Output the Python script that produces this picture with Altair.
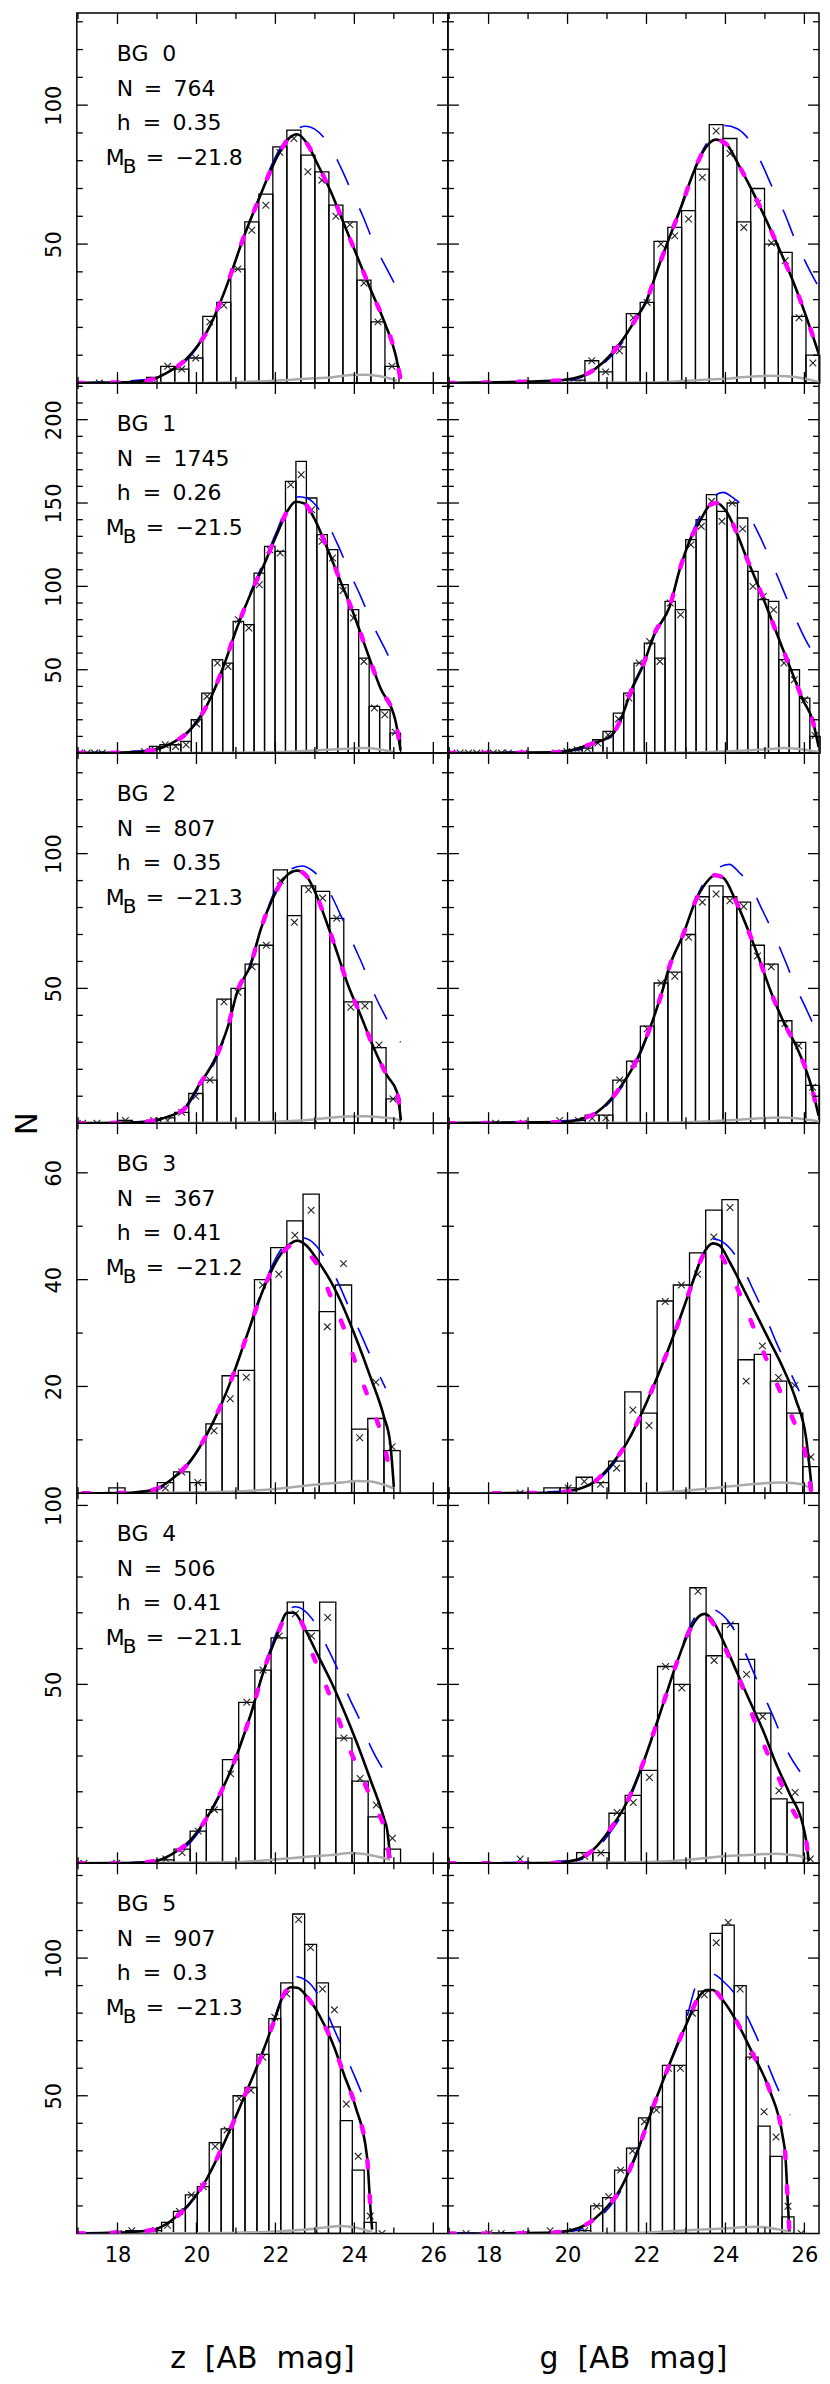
import altair as alt
import pandas as pd

FONT = "DejaVu Sans"
W, H = 372, 371
X_DOMAIN = [16.97, 26.37]
X_LABELS = [18, 20, 22, 24, 26]
X_MAJOR = [18, 20, 22, 24, 26]
X_MINOR = [17, 19, 21, 23, 25]
X_TITLES = ["z\u00a0\u00a0[AB\u00a0\u00a0mag]", "g\u00a0\u00a0[AB\u00a0\u00a0mag]"]

BG_NAME = ["BG\u00a0\u00a00", "BG\u00a0\u00a01", "BG\u00a0\u00a02", "BG\u00a0\u00a03", "BG\u00a0\u00a04", "BG\u00a0\u00a05"]
BG_N = ["764", "1745", "807", "367", "506", "907"]
BG_H = ["0.35", "0.26", "0.35", "0.41", "0.41", "0.3"]
BG_MB = ["\u221221.8", "\u221221.5", "\u221221.3", "\u221221.2", "\u221221.1", "\u221221.3"]

Y_MAX = [133.2, 222.0, 137.3, 69.3, 103.4, 134.4]
Y_LABELS = [[50, 100], [50, 100, 150, 200], [50, 100], [20, 40, 60], [50, 100], [50, 100]]
Y_MAJOR = Y_LABELS
Y_MINOR = [
    [10, 20, 30, 40, 60, 70, 80, 90, 110, 120, 130],
    [10, 20, 30, 40, 60, 70, 80, 90, 110, 120, 130, 140, 160, 170, 180, 190, 210, 220],
    [10, 20, 30, 40, 60, 70, 80, 90, 110, 120, 130],
    [10, 30, 50],
    [10, 20, 30, 40, 60, 70, 80, 90],
    [10, 20, 30, 40, 60, 70, 80, 90, 110, 120, 130],
]

# ---------------- BG 0 ----------------
Z0_START, Z0_WIDTH = 18.74, 0.355
Z0_COUNTS = [2, 6, 5, 9, 24, 29, 41, 58, 68, 85, 91, 82, 76, 64, 58, 37, 22, 6]
Z0_MARKS = [1, 6, 5, 9, 22, 28, 41, 55, 64, 83, 88, 76, 73, 60, 57, 36, 22, 6]
Z0_EXTRA_X = [17.54]
Z0_EXTRA_Y = [0]
Z0_BLACK_X = [16.97, 18.34, 18.93, 19.19, 19.9, 20.36, 20.70, 21.25, 21.59, 21.92, 22.09, 22.34, 22.55, 22.81, 23.06, 23.40, 23.73, 24.07, 24.41, 24.75, 25.04, 25.17]
Z0_BLACK_Y = [0, 0.3, 1.5, 3.2, 11, 21, 32.5, 54.5, 66.5, 77.8, 82.6, 88, 89.5, 86, 79, 69, 57.5, 45.6, 33.7, 22.3, 10.4, 1.4]
Z0_MAG_X = Z0_BLACK_X
Z0_MAG_Y = Z0_BLACK_Y
Z0_BLUE_X = [16.97, 18.93, 19.19, 19.9, 20.36, 20.70, 21.25, 21.59, 21.92, 22.34, 22.77, 23.31, 23.65, 23.93, 24.22, 24.49, 24.81, 25.14]
Z0_BLUE_Y = [0, 1.5, 3.0, 10.5, 21, 32.5, 54.5, 67, 79, 89, 92.4, 86.8, 77.8, 68.9, 59.9, 50.4, 41.4, 32.5]
Z0_GREY_X = [16.97, 19.5, 21.0, 21.97, 22.98, 23.40, 23.90, 24.24, 24.58, 24.87, 25.08]
Z0_GREY_Y = [0, 0, 0.3, 0.8, 1.7, 2.0, 2.9, 3.0, 2.6, 1.7, 0.8]

G0_START, G0_WIDTH = 20.09, 0.35
G0_COUNTS = [1, 8, 4, 13, 25, 29, 51, 56, 62, 77, 93, 88, 58, 70, 50, 47, 24, 10]
G0_MARKS = [0, 8, 4, 11.6, 23.5, 29, 50, 53, 59, 74, 90.7, 82.6, 56, 64.7, 50.4, 44, 23.5, 7.2]
G0_EXTRA_X = [18.87]
G0_EXTRA_Y = [0]
G0_BLACK_X = [16.97, 19.64, 20.06, 20.48, 20.90, 21.41, 21.75, 22.0, 22.25, 22.59, 22.88, 23.18, 23.43, 23.75, 24.02, 24.36, 24.69, 25.03, 25.37, 25.71, 26.04, 26.38]
G0_BLACK_Y = [0, 0.8, 1.4, 3.2, 7.4, 15.8, 23.5, 29.5, 39.6, 52.7, 63.4, 75.4, 83.2, 87.6, 86, 77.8, 68.9, 58.7, 48, 36.7, 24.1, 9.8]
G0_MAG_X = G0_BLACK_X
G0_MAG_Y = G0_BLACK_Y
G0_BLUE_X = [16.97, 20.06, 20.48, 20.90, 21.41, 21.75, 22.0, 22.25, 22.59, 22.88, 23.18, 23.6, 23.98, 24.3, 24.57, 24.91, 25.2, 25.5, 25.75, 26.06, 26.38]
G0_BLUE_Y = [0, 1.2, 2.8, 6.8, 15, 23.5, 30, 40, 53, 64, 76, 88, 92.7, 91.5, 88, 79.2, 70, 61, 52, 42.6, 34]
G0_GREY_X = [16.97, 22.17, 23.01, 23.85, 24.69, 25.12, 25.54, 25.96, 26.38]
G0_GREY_Y = [0, 0.2, 0.8, 1.4, 2.3, 2.6, 2.4, 1.7, 0.2]

# ---------------- BG 1 ----------------
Z1_START, Z1_WIDTH = 18.81, 0.265
Z1_COUNTS = [4, 5, 5, 7, 20, 36, 56, 54, 79, 77, 108, 124, 121, 163, 175, 153, 131, 122, 101, 86, 57, 28, 26, 12]
Z1_MARKS = [2, 5, 4, 5, 17.5, 34, 54, 52, 80, 75, 101, 122, 120, 161, 167, 146, 127, 117, 97.5, 81, 55, 27, 23, 12.5]
Z1_EXTRA_X = [17.04, 17.23, 17.42, 17.61, 18.68]
Z1_EXTRA_Y = [0, 0, 0, 0, 1]
Z1_BLACK_X = [16.97, 18.34, 18.93, 19.35, 19.86, 20.36, 20.70, 21.04, 21.38, 21.71, 22.05, 22.30, 22.51, 22.72, 22.98, 23.31, 23.65, 23.99, 24.32, 24.66, 25.04, 25.17]
Z1_BLACK_Y = [0, 0.4, 2, 5.6, 14.5, 33, 53, 76, 96, 113, 132, 145, 150.8, 149.9, 141, 123, 103, 83, 61, 39, 19.5, 1.6]
Z1_MAG_X = Z1_BLACK_X
Z1_MAG_Y = Z1_BLACK_Y
Z1_BLUE_X = [16.97, 18.93, 19.35, 19.86, 20.36, 20.70, 21.04, 21.38, 21.71, 22.05, 22.30, 22.6, 22.81, 23.27, 23.58, 23.86, 24.16, 24.43, 24.75, 25.08, 25.14]
Z1_BLUE_Y = [0, 2, 5.2, 14, 33, 53, 76, 97, 115, 134, 148, 153.8, 152.8, 140, 125, 109.5, 94, 79, 63.7, 49, 47.4]
Z1_GREY_X = [16.97, 21.0, 22.13, 22.98, 23.82, 24.24, 24.66, 24.99]
Z1_GREY_Y = [0, 0.2, 0.6, 1.6, 2.6, 3, 2.2, 0.6]

G1_START, G1_WIDTH = 19.85, 0.262
G1_COUNTS = [1, 2, 3, 8, 13, 24, 36, 54, 66, 57, 91, 86, 128, 140, 155, 145, 150, 141, 109, 92, 91, 56, 50, 33, 10]
G1_MARKS = [1, 2, 2.6, 6, 11, 20.5, 33, 54, 67, 55, 90, 83, 125, 136, 151, 139, 150, 134.5, 100, 94, 86, 54, 44, 32, 10.5]
G1_EXTRA_X = [17.07, 17.28, 17.49, 17.70, 17.91, 18.12, 18.33, 18.50, 18.90, 19.71]
G1_EXTRA_Y = [0, 0, 0, 0, 0, 0, 0, 0, 0, 0]
G1_BLACK_X = [16.97, 19.64, 20.06, 20.61, 21.11, 21.37, 21.62, 21.95, 22.21, 22.59, 22.84, 23.09, 23.35, 23.62, 23.77, 24.02, 24.27, 24.52, 24.82, 25.12, 25.41, 25.71, 25.96, 26.21, 26.36]
G1_BLACK_Y = [0, 0.4, 1.6, 5.6, 10.5, 21.5, 38, 55, 72, 88, 110, 127, 139, 149, 150, 145, 133, 118, 101, 83, 65, 47, 32, 19.5, 3.6]
G1_MAG_X = G1_BLACK_X
G1_MAG_Y = G1_BLACK_Y
G1_BLUE_X = [16.97, 20.06, 20.61, 21.11, 21.37, 21.62, 21.95, 22.21, 22.59, 22.84, 23.09, 23.35, 23.62, 23.94, 24.2, 24.48, 24.82, 25.12, 25.39, 25.66, 25.96, 26.3, 26.36]
G1_BLUE_Y = [0, 1.4, 5, 10, 20.5, 37, 54, 71, 88, 110, 128, 142, 152, 156.4, 153, 147, 132.6, 117, 102, 86.8, 71.2, 56, 53]
G1_GREY_X = [16.97, 22.59, 24.27, 25.12, 25.45, 25.79, 26.13, 26.36]
G1_GREY_Y = [0, 0.2, 1.2, 2.4, 3, 2.6, 1.6, 0.6]

# ---------------- BG 2 ----------------
Z2_START, Z2_WIDTH = 18.02, 0.357
Z2_COUNTS = [1, 0, 1, 2, 4, 11, 16, 46, 50, 59, 66, 94, 77, 88, 86, 76, 45, 45, 28, 9]
Z2_MARKS = [1, None, 1, 1, 4, 10, 16, 45, 48.6, 58, 66, 90, 74.5, 86.6, 83.5, 76, 43, 43.5, 29, 9]
Z2_EXTRA_X = [17.12, 17.48]
Z2_EXTRA_Y = [0, 0]
Z2_BLACK_X = [16.97, 18.34, 18.93, 19.35, 19.69, 20.03, 20.49, 20.79, 21.04, 21.38, 21.63, 21.92, 22.26, 22.55, 22.77, 22.98, 23.31, 23.57, 23.82, 24.16, 24.49, 24.83, 25.08, 25.18]
Z2_BLACK_Y = [0, 0.2, 1, 2.8, 5.3, 13.3, 24.4, 35.5, 49, 59, 72, 83, 91.5, 93.7, 92, 86.6, 74, 63, 52, 40, 28, 17.6, 11.5, 1]
Z2_MAG_X = Z2_BLACK_X
Z2_MAG_Y = Z2_BLACK_Y
Z2_BLUE_X = [16.97, 18.93, 19.35, 19.69, 20.03, 20.49, 20.79, 21.04, 21.38, 21.63, 21.92, 22.26, 22.68, 22.89, 23.36, 23.65, 23.94, 24.22, 24.49, 24.79, 25.17]
Z2_BLUE_Y = [0, 0.8, 2.4, 4.8, 12.5, 23.5, 35, 49, 60, 72, 84, 93, 95.4, 94.2, 86, 77.3, 67.5, 58.3, 48.4, 39.5, 30]
Z2_GREY_X = [16.97, 21.0, 22.13, 22.98, 23.82, 24.24, 24.66, 25.08, 25.17]
Z2_GREY_Y = [0, 0.2, 0.6, 1.4, 2.5, 2.6, 2.2, 1.4, 0.9]

G2_START, G2_WIDTH = 20.10, 0.349
G2_COUNTS = [1, 3, 3, 16, 23, 36, 52, 56, 70, 84, 88, 84, 82, 66, 59, 38, 30, 14]
G2_MARKS = [1, 1.8, 2, 16, 22, 35, 52, 54.5, 69, 82, 85, 82.5, 80.4, 62, 58, 37, 28.7, 13.3]
G2_EXTRA_X = [18.18, 18.88, 19.80]
G2_EXTRA_Y = [0, 0, 1]
G2_BLACK_X = [16.97, 19.9, 20.3, 20.74, 21.28, 21.75, 22.08, 22.36, 22.59, 22.93, 23.22, 23.5, 23.73, 23.95, 24.23, 24.57, 24.86, 25.16, 25.5, 25.79, 26.17, 26.36]
G2_BLACK_Y = [0, 0.4, 1.4, 4, 12.2, 23.4, 35, 47, 58.5, 70, 81.7, 89, 92, 91, 83.5, 71.8, 60.7, 48.4, 36.7, 28.7, 14, 2.8]
G2_MAG_X = G2_BLACK_X
G2_MAG_Y = G2_BLACK_Y
G2_BLUE_X = [16.97, 20.3, 20.74, 21.28, 21.75, 22.08, 22.36, 22.59, 22.93, 23.22, 23.5, 23.85, 24.1, 24.35, 24.61, 24.93, 25.23, 25.5, 25.77, 26.07, 26.37]
G2_BLUE_Y = [0, 1.2, 3.5, 11.5, 22.5, 34.5, 47, 58.5, 70, 82, 90.5, 95, 96, 93, 88.7, 79.2, 70, 60.7, 51, 41.6, 32]
G2_GREY_X = [16.97, 22.5, 23.85, 24.69, 25.37, 25.79, 26.38]
G2_GREY_Y = [0, 0.2, 0.9, 1.6, 2.1, 1.8, 0.6]

# ---------------- BG 3 ----------------
Z3_START, Z3_WIDTH = 17.78, 0.41
Z3_COUNTS = [1, 0, 0, 2, 4, 2, 13, 22, 23, 40, 46, 51, 56, 34, 39, 12, 14, 8]
Z3_MARKS = [None, None, None, 1, 4, 2, 11.7, 17.7, 21.7, 39, 41, 48.3, 53, 31.2, 43, 10.4, 20.8, 8.7]
Z3_EXTRA_X = []
Z3_EXTRA_Y = []
Z3_BLACK_X = [17.12, 18.34, 18.93, 19.35, 19.86, 20.36, 20.87, 21.29, 21.71, 22.13, 22.39, 22.55, 22.81, 23.06, 23.40, 23.73, 24.07, 24.41, 24.75, 24.91, 25.0]
Z3_BLACK_Y = [0, 0.1, 0.7, 2.5, 6.2, 12.4, 21, 29.8, 38.5, 44.7, 46.8, 47.3, 46.2, 43.7, 39.7, 34.7, 28.5, 21.7, 14.3, 9.3, 1.2]
Z3_MAG_X = [17.12, 18.34, 18.93, 19.35, 19.86, 20.36, 20.87, 21.29, 21.71, 22.13, 22.47, 22.72, 23.06, 23.40, 23.73, 24.07, 24.41, 24.75, 24.95]
Z3_MAG_Y = [0, 0.1, 0.7, 2.5, 6.2, 12.4, 21, 29.8, 38.5, 44.5, 46.6, 45.5, 42.8, 36.9, 31, 23.6, 16.7, 9.3, 1.9]
Z3_BLUE_X = [17.12, 18.93, 19.35, 19.86, 20.36, 20.87, 21.29, 21.71, 22.13, 22.39, 22.64, 22.89, 23.31, 23.63, 23.92, 24.2, 24.48, 24.79]
Z3_BLUE_Y = [0, 0.5, 2.2, 6, 12.2, 21, 30, 39, 45.5, 47.5, 47.9, 47.3, 43.4, 38.8, 33.8, 29.2, 24.5, 19.7]
Z3_GREY_X = [17.12, 20.87, 22.13, 22.98, 23.65, 24.07, 24.41, 24.75, 25.0]
Z3_GREY_Y = [0, 0.3, 0.9, 1.6, 2, 2.3, 2.2, 1.6, 0.9]

G3_START, G3_WIDTH = 19.40, 0.41
G3_COUNTS = [1, 1, 3, 2, 6, 19, 15, 36, 39, 45, 53, 55, 25, 26, 21, 15, 5]
G3_MARKS = [None, 1, 2.2, 1.7, 4.7, 15.6, 12.7, 35.9, 39, 41, 48, 53.5, 21, 27.6, 21.7, 20.2, 6.8]
G3_EXTRA_X = [18.80]
G3_EXTRA_Y = [0]
G3_BLACK_X = [18.12, 19.64, 20.23, 20.65, 21.07, 21.49, 21.91, 22.34, 22.76, 23.18, 23.43, 23.68, 23.85, 24.10, 24.44, 24.78, 25.12, 25.45, 25.79, 26.04, 26.19]
G3_BLACK_Y = [0, 0.1, 0.7, 2, 5, 9.3, 15.5, 23, 31, 39.7, 44.7, 46.8, 46.4, 43.4, 38.5, 33.5, 28.5, 23.6, 17.4, 10.5, 0.6]
G3_MAG_X = [18.12, 19.64, 20.23, 20.65, 21.07, 21.49, 21.91, 22.34, 22.76, 23.18, 23.43, 23.6, 23.85, 24.10, 24.44, 24.78, 25.12, 25.45, 25.79, 26.04, 26.17]
G3_MAG_Y = [0, 0.1, 0.7, 2, 5, 9.3, 15.5, 23, 31, 39.7, 44.5, 46.2, 45, 41.6, 36, 29.8, 23.6, 18, 12.4, 6.8, 0.3]
G3_BLUE_X = [18.12, 20.23, 20.65, 21.07, 21.49, 21.91, 22.34, 22.76, 23.18, 23.43, 23.68, 23.98, 24.42, 24.71, 25.01, 25.28, 25.58, 25.87]
G3_BLUE_Y = [0, 0.6, 1.8, 4.6, 9, 15.5, 23, 31, 40, 45, 47.6, 46.8, 42.5, 38, 33.2, 28.4, 23.6, 19.1]
G3_GREY_X = [18.12, 21.75, 23.01, 23.85, 24.69, 25.37, 25.71, 26.04, 26.21]
G3_GREY_Y = [0, 0, 0.5, 1.1, 1.7, 2, 1.9, 1.4, 0.7]

# ---------------- BG 4 ----------------
Z4_START, Z4_WIDTH = 19.02, 0.41
Z4_COUNTS = [1, 4, 9, 15, 29, 45, 54, 63, 73, 65, 73, 35, 23, 13, 4]
Z4_MARKS = [1.2, 3, 9, 15, 25, 45, 54, 63.5, 69.7, 63.5, 68.7, 35, 23.7, 16.3, 7]
Z4_EXTRA_X = [17.15, 17.98]
Z4_EXTRA_Y = [0, 0]
Z4_BLACK_X = [16.97, 18.34, 18.93, 19.35, 19.86, 20.36, 20.87, 21.38, 21.71, 22.05, 22.30, 22.47, 22.72, 23.06, 23.40, 23.73, 24.07, 24.41, 24.75, 24.83, 24.91]
Z4_BLACK_Y = [0, 0.1, 0.6, 2.4, 6.6, 14.5, 26, 41.8, 54, 64, 70, 70, 66, 58.5, 51, 42.8, 33.5, 23.3, 12.6, 9.4, 1.5]
Z4_MAG_X = [16.97, 18.34, 18.93, 19.35, 19.86, 20.36, 20.87, 21.38, 21.71, 22.05, 22.30, 22.47, 22.72, 22.89, 23.23, 23.52, 23.82, 24.16, 24.49, 24.81, 24.88]
Z4_MAG_Y = [0, 0.1, 0.6, 2.4, 6.6, 14.5, 26, 41.8, 54, 64, 69.3, 69.5, 66, 60, 51, 42.8, 33.5, 25, 16.3, 7.7, 1.5]
Z4_BLUE_X = [16.97, 18.93, 19.35, 19.86, 20.36, 20.87, 21.38, 21.71, 22.05, 22.30, 22.51, 22.93, 23.27, 23.57, 23.84, 24.14, 24.41, 24.75]
Z4_BLUE_Y = [0, 0.5, 2, 6, 14, 26, 42, 54.5, 65, 70.5, 71.7, 68.3, 61.3, 54.4, 47, 40, 32.7, 25.9]
Z4_GREY_X = [16.97, 20.87, 22.13, 22.98, 23.40, 23.90, 24.24, 24.66, 24.91]
Z4_GREY_Y = [0, 0.3, 1.2, 2, 2.3, 2.9, 2.6, 1.7, 1]

G4_START, G4_WIDTH = 20.23, 0.41
G4_COUNTS = [3, 3, 14, 19, 26, 55, 50, 77, 58, 67, 57, 42, 18, 17]
G4_MARKS = [2, 2.9, 14.2, 17, 24, 55, 49, 76, 56.7, 66.7, 52.8, 41, 20.3, 19.8]
G4_EXTRA_X = [18.80, 20.02, 26.15]
G4_EXTRA_Y = [1.2, 0, 1.2]
G4_BLACK_X = [16.97, 18.21, 19.64, 20.23, 20.65, 21.07, 21.49, 21.91, 22.34, 22.76, 23.09, 23.35, 23.47, 23.68, 23.94, 24.27, 24.61, 24.95, 25.28, 25.62, 25.96, 26.04, 26.11]
G4_BLACK_Y = [0, 0, 0.1, 1, 3.8, 9.4, 16.8, 27.9, 41.8, 55.8, 65, 69.2, 69.7, 67.8, 62.2, 53.9, 45.5, 37.2, 27.9, 19.6, 10.8, 6.6, 0.6]
G4_MAG_X = [16.97, 19.64, 20.23, 20.65, 21.07, 21.49, 21.91, 22.34, 22.76, 23.09, 23.35, 23.5, 23.67, 24.06, 24.4, 24.7, 25.03, 25.37, 25.7, 26.04, 26.1]
G4_MAG_Y = [0, 0.1, 1, 3.8, 9.4, 16.8, 27.9, 41.8, 55.8, 65, 69, 69.3, 67.3, 58.5, 50.2, 41, 31.6, 23.3, 15, 6.6, 1]
G4_BLUE_X = [16.97, 20.23, 20.65, 21.07, 21.49, 21.91, 22.34, 22.76, 23.09, 23.5, 23.77, 24.1, 24.42, 24.69, 24.99, 25.27, 25.54, 25.89]
G4_BLUE_Y = [0, 0.8, 3.2, 8.5, 16, 27.5, 41.8, 56, 66, 71.5, 70.6, 67.3, 60.9, 53.9, 46.5, 39.5, 32, 25.6]
G4_GREY_X = [18.21, 21.75, 23.09, 23.94, 24.69, 25.28, 25.62, 25.96, 26.11]
G4_GREY_Y = [0, 0.3, 1, 2, 2.4, 2.7, 2.4, 1.8, 1]

# ---------------- BG 5 ----------------
Z5_START, Z5_WIDTH = 18.21, 0.302
Z5_COUNTS = [1, 0, 1, 4, 8, 14, 17, 33, 38, 50, 53, 65, 78, 91, 116, 105, 91, 75, 41, 23, 4]
Z5_MARKS = [1, None, 1, 3, 8, 14, 17, 31.6, 37.6, 49, 52, 64, 78.5, 87, 114, 103.8, 88.8, 81.2, 47, 28, 6.3]
Z5_EXTRA_X = [18.02, 24.70]
Z5_EXTRA_Y = [0, 0]
Z5_BLACK_X = [16.97, 18.34, 18.93, 19.35, 19.77, 20.2, 20.7, 21.21, 21.63, 21.97, 22.22, 22.39, 22.56, 22.81, 23.14, 23.48, 23.73, 24.03, 24.32, 24.41, 24.45]
Z5_BLACK_Y = [0, 0.5, 1.4, 4.5, 9.9, 18.3, 32.8, 49.6, 64, 77.3, 87, 89.4, 89.2, 85.8, 78.5, 68, 58, 46, 28, 8.7, 1.4]
Z5_MAG_X = Z5_BLACK_X
Z5_MAG_Y = Z5_BLACK_Y
Z5_BLUE_X = [16.97, 18.93, 19.35, 19.77, 20.2, 20.7, 21.21, 21.63, 21.97, 22.22, 22.47, 22.77, 23.19, 23.47, 23.76, 24.03, 24.31, 24.45]
Z5_BLUE_Y = [0, 1.2, 4, 9.5, 18, 32.5, 49.6, 64.5, 78, 88, 93.4, 92, 84, 74.7, 65.3, 56.3, 47, 43.4]
Z5_GREY_X = [16.97, 20.87, 22.13, 22.98, 23.4, 23.65, 23.9, 24.24, 24.45]
Z5_GREY_Y = [0, 0.2, 0.8, 1.7, 2.4, 2.7, 2.4, 1.4, 0.5]

G5_START, G5_WIDTH = 19.98, 0.303
G5_COUNTS = [1, 1, 10, 13, 23, 31, 42, 46, 61, 61, 81, 88, 109, 112, 90, 64, 39, 28, 6]
G5_MARKS = [0.8, 1, 9.9, 13.3, 23, 30, 40.6, 44.8, 60, 60, 80, 86.7, 105.6, 112.9, 88.8, 64.3, 44.2, 35, 9.9]
G5_EXTRA_X = [17.43, 18.01, 18.32, 18.95, 19.56, 19.83, 25.92]
G5_EXTRA_Y = [0, 0, 0, 0, 1, 0, 0]
G5_BLACK_X = [16.97, 18.21, 19.47, 20.06, 20.48, 20.9, 21.33, 21.75, 22.17, 22.59, 23.01, 23.35, 23.52, 23.68, 23.94, 24.27, 24.69, 25.12, 25.45, 25.52, 25.58, 25.62]
G5_BLACK_Y = [0, 0, 0.2, 1.1, 3.3, 8.1, 15.9, 29.2, 46, 61.7, 76, 86.4, 88.4, 88.4, 84.6, 77.3, 65.3, 52, 35.2, 28, 11, 0.8]
G5_MAG_X = G5_BLACK_X
G5_MAG_Y = G5_BLACK_Y
G5_BLUE_X = [16.97, 20.06, 20.48, 20.9, 21.33, 21.75, 22.17, 22.59, 23.01, 23.3, 23.67, 23.95, 24.34, 24.63, 24.93, 25.18, 25.48, 25.64]
G5_BLUE_Y = [0, 0.8, 2.5, 7, 15, 28.5, 46, 62, 78, 91.2, 94.2, 91.5, 84.8, 76.4, 66.7, 57.5, 47.8, 43]
G5_GREY_X = [16.97, 21.75, 23.01, 23.85, 24.78, 25.12, 25.45, 25.66]
G5_GREY_Y = [0, 0.2, 1.2, 1.7, 2.4, 2, 1.2, 0.5]

XSHAPE = "M-1,-1L1,1M-1,1L1,-1"


def line_df(xs, ys):
    return pd.DataFrame({"x": xs, "y": ys, "o": list(range(len(xs)))})


def txt(s, px, py, size=22, align="left"):
    return alt.Chart(pd.DataFrame({"t": [s]})).mark_text(
        align=align, baseline="alphabetic", font=FONT, fontSize=size,
        color="black").encode(x=alt.value(px), y=alt.value(py), text="t:N")


def make_panel(r, c):
    g = globals()
    key = ("Z" if c == 0 else "G") + str(r)

    def get(name):
        return g[key + "_" + name]

    xs = alt.Scale(domain=X_DOMAIN, nice=False, zero=False)
    ys = alt.Scale(domain=[0, Y_MAX[r]], nice=False, zero=False)

    if r == 5:
        xax = alt.Axis(values=X_LABELS, format="d", labelFontSize=21, labelFont=FONT,
                       labelColor="black", labelPadding=11, ticks=False, tickSize=0,
                       domain=False, grid=False, labelFlush=False, labelOverlap=False,
                       title=None)
    else:
        xax = None
    if c == 0:
        kw = dict(values=Y_LABELS[r], format="d", labelAngle=270, labelAlign="center",
                  labelBaseline="alphabetic", labelPadding=16, labelFontSize=21,
                  labelFont=FONT, labelColor="black", ticks=False, tickSize=0,
                  domain=False, grid=False, labelFlush=False, labelOverlap=False)
        if r == 2:
            yax = alt.Axis(title="N", titleFont=FONT, titleFontSize=31,
                           titleFontWeight="normal", titleColor="black", titleAngle=270,
                           titleX=-49, titleY=H, titleAlign="center",
                           titleBaseline="middle", **kw)
        else:
            yax = alt.Axis(title=None, **kw)
    else:
        yax = None

    def X(f):
        return alt.X(f, type="quantitative", scale=xs, axis=xax)

    def Y(f):
        return alt.Y(f, type="quantitative", scale=ys, axis=yax)

    start, width = get("START"), get("WIDTH")
    counts = get("COUNTS")
    x0 = [start + i * width for i in range(len(counts))]
    bars_df = pd.DataFrame({"x0": x0, "x1": [v + width for v in x0],
                            "c": counts, "z": [0] * len(counts)})
    bars = alt.Chart(bars_df).mark_rect(fillOpacity=0, stroke="black", strokeWidth=1.3).encode(
        x=X("x0"), x2="x1:Q", y=Y("c"), y2="z:Q")

    marks = get("MARKS")
    mx = [start + (i + 0.5) * width for i, v in enumerate(marks) if v is not None]
    my = [v for v in marks if v is not None]
    mx += list(get("EXTRA_X"))
    my += list(get("EXTRA_Y"))
    mk = alt.Chart(pd.DataFrame({"x": mx, "y": my})).mark_point(
        shape=XSHAPE, size=45, filled=False, color="#222222", strokeWidth=1.1, opacity=1,
        clip=True).encode(x=X("x"), y=Y("y"))

    def curve(name, **props):
        df = line_df(get(name + "_X"), get(name + "_Y"))
        return alt.Chart(df).mark_line(clip=True, interpolate="monotone", **props).encode(
            x=X("x"), y=Y("y"), order="o:Q")

    grey = curve("GREY", color="#aaaaaa", strokeWidth=2.5)
    blue = curve("BLUE", color="#0000ff", strokeWidth=1.6, strokeDash=[28, 26])
    black = curve("BLACK", color="black", strokeWidth=2.6)
    mag = curve("MAG", color="#ff00ff", strokeWidth=4.5, strokeDash=[7, 28], strokeCap="round")

    layers = [bars, mk, grey, blue, black, mag]

    def xt(vals, length, top):
        return alt.Chart(pd.DataFrame({"v": vals})).mark_rule(color="black", strokeWidth=1.3).encode(
            x=X("v"), y=alt.value(0 if top else H), y2=alt.value(length if top else H - length))

    def yt(vals, length, right):
        return alt.Chart(pd.DataFrame({"v": vals})).mark_rule(color="black", strokeWidth=1.3).encode(
            y=Y("v"), x=alt.value(W if right else 0), x2=alt.value(W - length if right else length))

    for top in (False, True):
        layers.append(xt(X_MAJOR, 11, top))
        layers.append(xt(X_MINOR, 6, top))
    for right in (False, True):
        layers.append(yt(Y_MAJOR[r], 11, right))
        layers.append(yt(Y_MINOR[r], 6, right))

    if c == 0:
        layers += [
            txt(BG_NAME[r], 40, 48),
            txt("N", 40, 83), txt("=", 67, 83), txt(BG_N[r], 97, 83),
            txt("h", 40, 117), txt("=", 66, 117), txt(BG_H[r], 96, 117),
            txt("M", 29, 152), txt("B", 46, 160, 20), txt("=", 69, 152), txt(BG_MB[r], 99, 152),
        ]
    if r == 5:
        layers.append(txt(X_TITLES[c], W / 2, H + 135, 30, "center"))

    return alt.layer(*layers).properties(width=W, height=H)


panels = [make_panel(r, c) for r in range(6) for c in range(2)]

chart = alt.concat(*panels, columns=2, spacing=0, bounds="flush").resolve_scale(
    x="independent", y="independent").properties(
    padding={"left": 3, "top": 0, "right": 0, "bottom": 0},
    background="white").configure_view(stroke="black", strokeWidth=1.5)

chart.save("out.html", embed_options={"renderer": "svg", "actions": False})
